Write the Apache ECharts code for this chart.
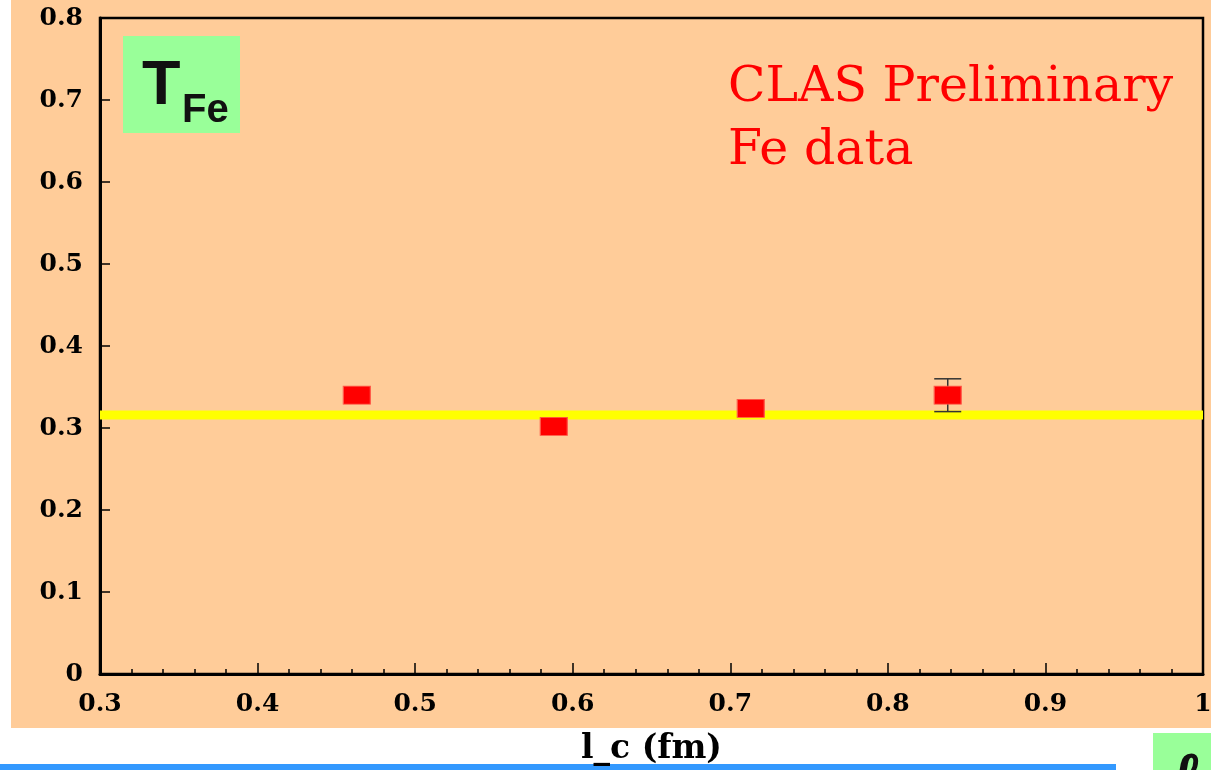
<!DOCTYPE html>
<html>
<head>
<meta charset="utf-8">
<script src="https://cdn.jsdelivr.net/npm/echarts@6/dist/echarts.min.js"></script>
<style>
  html, body { margin: 0; padding: 0; background: #ffffff; }
  #chart { width: 1211px; height: 770px; }
</style>
</head>
<body>
<div id="chart"></div>
<script>
// Coherence length bins (fm) and measured transparency T for Fe
const lcValues = [0.463, 0.588, 0.713, 0.838];
const tValues = [0.340, 0.302, 0.324, 0.340];
const tErrors = [0, 0, 0, 0.02];
// Constant fit across the l_c range
const fitRange = [0.3, 1.0];
const fitValue = 0.316;
// Axis ranges and tick spacing
const xRange = [0.3, 1.0];
const yRange = [0, 0.8];
const tickStep = 0.1;

const points = lcValues.map((x, i) => [x, tValues[i]]);
const errorBars = lcValues
  .map((x, i) => [x, tValues[i] - tErrors[i], tValues[i] + tErrors[i], tErrors[i]])
  .filter(d => d[3] > 0);
const fitLine = fitRange.map(x => [x, fitValue]);

const serifBold = { fontFamily: 'DejaVu Serif', fontWeight: 'bold', fontSize: 25, color: '#000' };

const chart = echarts.init(document.getElementById('chart'), null, { renderer: 'canvas' });
chart.setOption({
  backgroundColor: '#ffffff',
  animation: false,
  grid: {
    left: 100, top: 18, right: 8, bottom: 96,
    containLabel: false,
    outerBoundsMode: 'none',
    show: true, borderColor: '#000', borderWidth: 2.5, backgroundColor: 'transparent'
  },
  xAxis: {
    type: 'value',
    min: xRange[0], max: xRange[1], interval: tickStep,
    name: 'l_c (fm)',
    nameLocation: 'middle',
    nameGap: 59,
    nameTextStyle: { fontFamily: 'DejaVu Serif', fontWeight: 'bold', fontSize: 33, color: '#000' },
    axisLine: { show: true, onZero: false, lineStyle: { color: '#000', width: 3 } },
    axisTick: { show: true, inside: true, length: 11, lineStyle: { color: '#000', width: 1.5 } },
    minorTick: { show: true, splitNumber: 5, length: 5, lineStyle: { color: '#000', width: 1.5 } },
    splitLine: { show: false },
    axisLabel: Object.assign({
      margin: 18, showMinLabel: true, showMaxLabel: true,
      formatter: v => (Math.abs(v - 1) < 1e-9 ? '1' : v.toFixed(1))
    }, serifBold)
  },
  yAxis: {
    type: 'value',
    min: yRange[0], max: yRange[1], interval: tickStep,
    axisLine: { show: true, onZero: false, lineStyle: { color: '#000', width: 3 } },
    axisTick: { show: true, inside: true, length: 10, lineStyle: { color: '#000', width: 1.5 } },
    splitLine: { show: false },
    axisLabel: Object.assign({
      margin: 17, showMinLabel: true, showMaxLabel: true,
      formatter: v => (Math.abs(v) < 1e-9 ? '0' : v.toFixed(1))
    }, serifBold)
  },
  series: [
    {
      name: 'fit',
      type: 'line',
      data: fitLine,
      symbol: 'none',
      lineStyle: { color: '#ffff00', width: 9 },
      z: 1,
      silent: true
    },
    {
      name: 'errors',
      type: 'custom',
      data: errorBars,
      z: 3,
      renderItem: function (params, api) {
        const x = api.value(0);
        const lo = api.coord([x, api.value(1)]);
        const hi = api.coord([x, api.value(2)]);
        const half = 13.5;
        const style = { stroke: '#333', lineWidth: 1.5 };
        return {
          type: 'group',
          children: [
            { type: 'line', shape: { x1: hi[0], y1: hi[1], x2: lo[0], y2: lo[1] }, style: style },
            { type: 'line', shape: { x1: hi[0] - half, y1: hi[1], x2: hi[0] + half, y2: hi[1] }, style: style },
            { type: 'line', shape: { x1: lo[0] - half, y1: lo[1], x2: lo[0] + half, y2: lo[1] }, style: style }
          ]
        };
      }
    },
    {
      name: 'T',
      type: 'scatter',
      data: points,
      symbol: 'rect',
      symbolSize: [27, 18],
      itemStyle: { color: '#ff0000', borderColor: '#ff5a4a', borderWidth: 1, opacity: 1 },
      z: 4
    }
  ],
  graphic: [
    // page panel behind the plot
    { type: 'rect', z: -100, silent: true, shape: { x: 11, y: 0, width: 1200, height: 728 }, style: { fill: '#ffcc99' } },
    // T_Fe tag
    { type: 'rect', z: -50, shape: { x: 123, y: 36, width: 117, height: 97 }, style: { fill: '#99ff99' } },
    { type: 'text', z: 10, style: { text: 'T', x: 142, y: 87, verticalAlign: 'middle', font: 'bold 63px "Liberation Sans", Arial, sans-serif', fill: '#111' } },
    { type: 'text', z: 10, style: { text: 'Fe', x: 182, y: 111, verticalAlign: 'middle', font: 'bold 40px "Liberation Sans", Arial, sans-serif', fill: '#111' } },
    // annotation
    { type: 'text', z: 10, style: { text: 'CLAS Preliminary', x: 728, y: 88, verticalAlign: 'middle', font: '49px "DejaVu Serif", serif', fill: '#ff0000' } },
    { type: 'text', z: 10, style: { text: 'Fe data', x: 728, y: 151, verticalAlign: 'middle', font: '49px "DejaVu Serif", serif', fill: '#ff0000' } },
    // footer strip (kept under the axis title)
    { type: 'rect', z: -90, silent: true, shape: { x: 0, y: 764, width: 1116, height: 6 }, style: { fill: '#3399ff' } },
    { type: 'rect', z: 20, shape: { x: 1153, y: 733, width: 58, height: 37 }, style: { fill: '#99ff99' } },
    { type: 'text', z: 21, style: { text: 'ℓ', x: 1172, y: 748, verticalAlign: 'top', font: 'italic bold 64px "DejaVu Serif", serif', fill: '#111', stroke: '#111', lineWidth: 2 } }
  ]
});
</script>
</body>
</html>
